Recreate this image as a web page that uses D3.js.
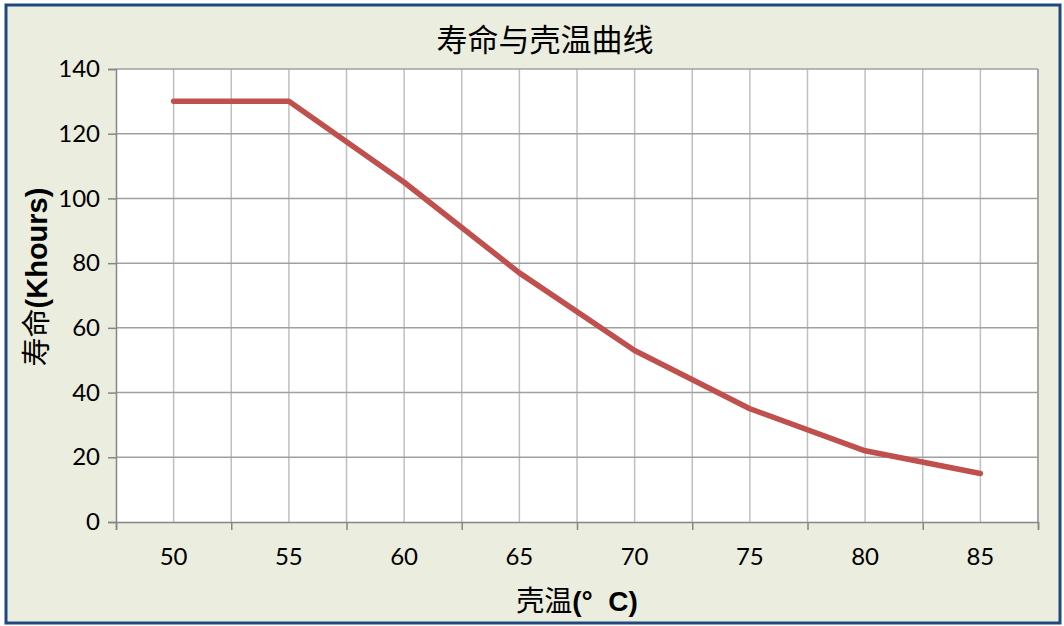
<!DOCTYPE html>
<html><head><meta charset="utf-8">
<script src="https://cdn.jsdelivr.net/npm/d3@7"></script>
<style>html,body{margin:0;padding:0;background:#fff;}</style>
</head><body>
<script>
const temps = [50, 55, 60, 65, 70, 75, 80, 85];
const life = [130, 130, 105, 77, 53, 35, 22, 15];
const yTicks = [0, 20, 40, 60, 80, 100, 120, 140];
const xLabels = [50, 55, 60, 65, 70, 75, 80, 85];
const title = "寿命与壳温曲线";
const yTitle = ["寿命", "(Khours)"];
const xTitle = ["壳温", "(°  C)"];

const W = 1064, H = 626;
const svg = d3.select("body").append("svg").attr("width", W).attr("height", H);
svg.append("rect").attr("x", 6).attr("y", 5).attr("width", W - 10).attr("height", H - 8)
  .attr("fill", "#EBEDDE").attr("stroke", "#1F497D").attr("stroke-width", 3);

const L = 116, R = 1038, T = 69, B = 522;
const x = d3.scaleLinear().domain([47.5, 87.5]).range([L, R]);
const y = d3.scaleLinear().domain([0, 140]).range([B, T]);

svg.append("rect").attr("x", L).attr("y", T).attr("width", R - L).attr("height", B - T).attr("fill", "#fff");

// vertical gridlines
const vg = d3.range(50, 87.6, 2.5);
svg.append("g").selectAll("line").data(vg).join("line")
  .attr("x1", d => x(d)).attr("x2", d => x(d)).attr("y1", T).attr("y2", B)
  .attr("stroke", d => d === 87.5 ? "#A6A6A6" : "#BFBFBF").attr("stroke-width", d => d === 87.5 ? 2 : 1.5);
// horizontal gridlines
svg.append("g").selectAll("line").data(yTicks.filter(d => d > 0)).join("line")
  .attr("x1", L).attr("x2", R).attr("y1", d => y(d)).attr("y2", d => y(d))
  .attr("stroke", "#A0A0A0").attr("stroke-width", 1.5);

const font = "Lato, 'Open Sans', sans-serif";
// y axis
const ya = svg.append("g").attr("transform", `translate(${L},0)`)
  .call(d3.axisLeft(y).tickValues(yTicks).tickSize(8).tickPadding(8));
ya.select(".domain").attr("stroke", "#868686").attr("stroke-width", 1.5);
ya.selectAll(".tick line").attr("stroke", "#868686").attr("stroke-width", 1.5);
ya.selectAll("text").attr("font-family", font).attr("font-size", 24).attr("fill", "#000");

// x axis
const xa = svg.append("g").attr("transform", `translate(0,${B})`)
  .call(d3.axisBottom(x).tickValues(d3.range(47.5, 87.6, 5)).tickSize(8).tickFormat(""));
xa.select(".domain").attr("stroke", "#868686").attr("stroke-width", 1.5);
xa.selectAll(".tick line").attr("stroke", "#868686").attr("stroke-width", 1.5);
svg.append("g").selectAll("text").data(xLabels).join("text")
  .attr("x", d => x(d)).attr("y", 565).attr("text-anchor", "middle")
  .attr("font-family", font).attr("font-size", 24).attr("fill", "#000").text(d => d);

// line
svg.append("path").datum(temps.map((t, i) => [t, life[i]]))
  .attr("d", d3.line().x(d => x(d[0])).y(d => y(d[1])))
  .attr("fill", "none").attr("stroke", "#C0504D").attr("stroke-width", 5.5)
  .attr("stroke-linejoin", "round").attr("stroke-linecap", "round");

// titles
svg.append("text").attr("x", 545).attr("y", 51).attr("text-anchor", "middle")
  .attr("font-family", "'Noto Sans CJK SC', sans-serif").attr("font-size", 31).attr("fill", "#000").text(title);

const yt = svg.append("text").attr("transform", "translate(47,277) rotate(-90)").attr("text-anchor", "middle")
  .attr("font-size", 29).attr("fill", "#000");
yt.append("tspan").attr("font-family", "'Noto Sans CJK SC', sans-serif").text(yTitle[0]);
yt.append("tspan").attr("font-family", "'Liberation Sans', Arial, sans-serif").attr("font-weight", "bold").text(yTitle[1]);

const xt = svg.append("text").attr("x", 577).attr("y", 611).attr("text-anchor", "middle")
  .attr("font-size", 28).attr("fill", "#000");
xt.append("tspan").attr("font-family", "'Noto Sans CJK SC', sans-serif").text(xTitle[0]);
xt.append("tspan").attr("font-family", "'Liberation Sans', Arial, sans-serif").attr("font-weight", "bold").attr("xml:space", "preserve").style("white-space", "pre").text(xTitle[1]);
</script>
</body></html>
